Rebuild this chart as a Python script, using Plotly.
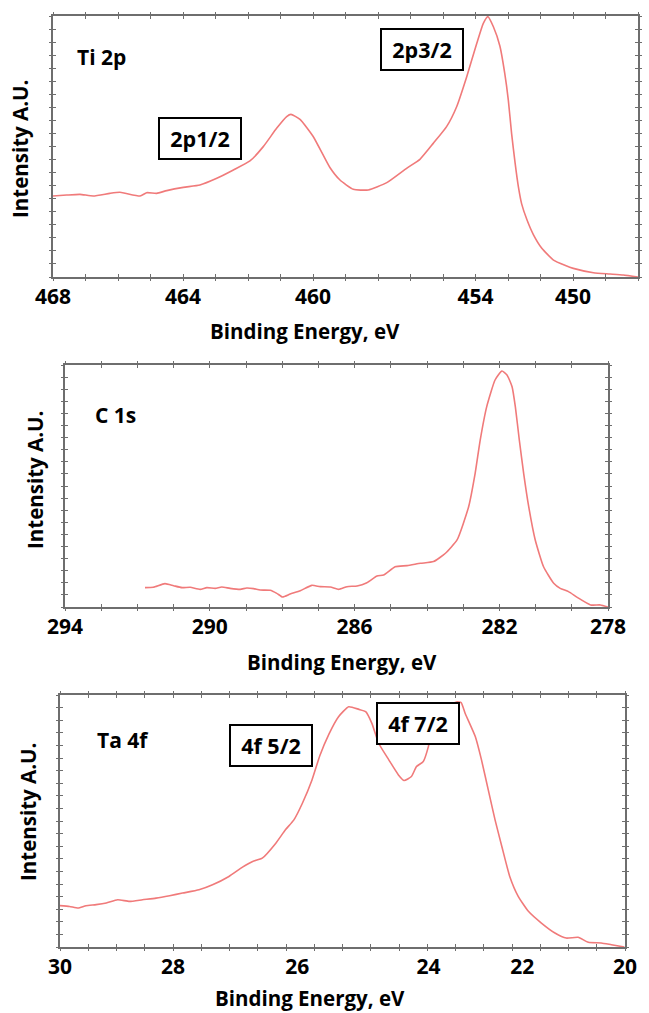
import plotly.graph_objects as go

W, H = 649, 1013

# ---- Ti 2p spectrum ----
ti_be = [468.00, 467.58, 467.17, 466.76, 466.25, 465.94, 465.32, 465.12, 464.81, 464.50,
         463.99, 463.48, 462.96, 462.45, 461.94, 461.53, 461.12, 460.81, 460.68, 460.40,
         459.99, 459.48, 459.17, 458.76, 458.30, 457.73, 457.12, 456.71, 456.30, 455.89,
         455.58, 455.27, 454.96, 454.76, 454.62, 454.45, 454.25, 454.10, 453.99, 453.89,
         453.78, 453.68, 453.58, 453.42, 453.22, 452.96, 452.60, 452.25, 451.99, 451.37,
         450.86, 450.45, 450.00]
ti_int = [6.21, 6.28, 6.33, 6.21, 6.41, 6.49, 6.21, 6.46, 6.41, 6.62,
          6.87, 7.05, 7.56, 8.20, 8.89, 9.99, 11.39, 12.29, 12.46, 12.08,
          10.75, 8.39, 7.43, 6.72, 6.67, 7.23, 8.33, 9.02, 10.24, 11.52,
          13.05, 15.35, 17.91, 19.44, 19.95, 19.18, 17.70, 15.60, 13.56, 11.00,
          8.70, 6.90, 5.60, 4.40, 3.25, 2.20, 1.30, 0.90, 0.66, 0.33,
          0.23, 0.15, 0.00]
ti_ticks = [468, 464, 460, 455, 452]
ti_labels = ["468", "464", "460", "454", "450"]

# ---- C 1s spectrum ----
c_be = [291.79, 291.56, 291.24, 291.00, 290.77, 290.54, 290.27, 290.08, 289.85, 289.67,
        289.44, 289.16, 288.98, 288.79, 288.61, 288.33, 288.15, 287.99, 287.78, 287.50,
        287.18, 286.95, 286.67, 286.44, 286.21, 285.93, 285.66, 285.38, 285.20, 284.88,
        284.55, 284.18, 283.82, 283.49, 283.17, 282.85, 282.67, 282.53, 282.35, 282.12,
        281.93, 281.79, 281.65, 281.56, 281.45, 281.33, 281.19, 281.01, 280.78, 280.50,
        280.32, 280.09, 279.85, 279.48, 279.21, 279.00]
c_int = [1.60, 1.63, 1.93, 1.76, 1.60, 1.63, 1.46, 1.60, 1.54, 1.65,
         1.54, 1.46, 1.57, 1.52, 1.40, 1.38, 1.13, 0.83, 1.07, 1.35,
         1.79, 1.68, 1.65, 1.46, 1.68, 1.74, 2.01, 2.56, 2.64, 3.33,
         3.42, 3.61, 3.75, 4.44, 5.54, 8.29, 11.05, 13.80, 16.56, 18.76,
         19.50, 19.17, 18.21, 16.56, 13.80, 11.05, 8.29, 5.54, 3.33, 1.96,
         1.54, 1.27, 0.80, 0.17, 0.17, 0.00]
c_ticks = [294, 290, 286, 282, 279]
c_labels = ["294", "290", "286", "282", "278"]

# ---- Ta 4f spectrum ----
ta_be = [30.00, 29.83, 29.68, 29.54, 29.36, 29.18, 28.98, 28.77, 28.54, 28.30,
         28.06, 27.83, 27.54, 27.30, 27.01, 26.77, 26.59, 26.42, 26.18, 26.01,
         25.86, 25.71, 25.54, 25.40, 25.24, 25.07, 24.89, 24.71, 24.59, 24.48,
         24.36, 24.18, 24.01, 23.91, 23.78, 23.69, 23.57, 23.48, 23.42, 23.21,
         23.06, 22.98, 22.90, 22.83, 22.65, 22.54, 22.42, 22.30, 22.18, 22.04,
         21.89, 21.71, 21.48, 21.24, 21.04, 20.83, 20.65, 20.42, 20.24, 20.01]
ta_int = [3.28, 3.22, 3.09, 3.28, 3.36, 3.49, 3.75, 3.62, 3.75, 3.88,
          4.07, 4.28, 4.54, 4.94, 5.60, 6.34, 6.79, 7.05, 8.24, 9.30,
          10.09, 11.41, 13.26, 15.20, 16.90, 18.28, 19.07, 18.86, 18.68, 17.75,
          16.17, 14.85, 13.66, 13.21, 13.53, 14.32, 14.72, 15.90, 17.23, 18.55,
          19.29, 19.45, 19.39, 18.55, 16.70, 14.85, 12.47, 10.09, 7.98, 5.60,
          4.02, 2.83, 1.90, 1.11, 0.71, 0.77, 0.37, 0.32, 0.18, 0.00]
ta_ticks = [30, 28, 25.8, 23.48, 21.82, 20]
ta_labels = ["30", "28", "26", "24", "22", "20"]

LINE = "#f07a7a"
AXIS = "#6e6e6e"
FONT = "Open Sans"

def fx(p):
    return p / W

def fy(p):
    return 1 - p / H

def bold(s):
    return "<b>%s</b>" % s

panels = [
    dict(be=ti_be, inten=ti_int, xr=[468, 450], step=1, box_x=(53, 638), box_y=(16, 277),
         tv=ti_ticks, tt=ti_labels, name="Ti 2p", name_xy=(466.5, 16.85),
         peaks=[("2p1/2", 463.48, 10.65), ("2p3/2", 456.65, 17.47)],
         xtitle=(305, 331), ytitle=(20, 149)),
    dict(be=c_be, inten=c_int, xr=[294, 279], step=1, box_x=(65, 608), box_y=(365, 607),
         tv=c_ticks, tt=c_labels, name="C 1s", name_xy=(292.6, 15.85),
         peaks=[], xtitle=(342, 662), ytitle=(35, 480)),
    dict(be=ta_be, inten=ta_int, xr=[30, 20], step=0.5, box_x=(60, 625), box_y=(695, 947),
         tv=ta_ticks, tt=ta_labels, name="Ta 4f", name_xy=(28.88, 16.4),
         peaks=[("4f 5/2", 26.27, 15.99), ("4f 7/2", 23.66, 17.74)],
         xtitle=(310, 998), ytitle=(28, 812)),
]

fig = go.Figure()
layout = dict(width=W, height=H, margin=dict(l=0, r=0, t=0, b=0, autoexpand=False),
              autosize=False, paper_bgcolor="white", plot_bgcolor="white", showlegend=False,
              font=dict(family=FONT, color="black"))
annotations = []

for i, p in enumerate(panels):
    n = i + 1
    sx = "" if n == 1 else str(n)
    xref, yref = "x" + sx, "y" + sx
    xdom = [fx(p["box_x"][0]), fx(p["box_x"][1])]
    ydom = [fy(p["box_y"][1]), fy(p["box_y"][0])]

    fig.add_trace(go.Scatter(x=p["be"], y=p["inten"], mode="lines", xaxis=xref, yaxis=yref,
                             line=dict(color=LINE, width=1.6, shape="spline", smoothing=0.5),
                             hoverinfo="skip"))

    layout["xaxis" + sx] = dict(domain=xdom, range=p["xr"], anchor=yref, automargin=False,
                                tickmode="array", tickvals=p["tv"],
                                ticktext=[bold(t) for t in p["tt"]],
                                ticks="",
                                tickfont=dict(family=FONT, size=21, color="black"),
                                showline=True, linecolor=AXIS, linewidth=1.6, mirror=True,
                                showgrid=False, zeroline=False)
    layout["yaxis" + sx] = dict(domain=ydom, range=[0, 20], anchor=xref, automargin=False,
                                showticklabels=False, ticks="",
                                showline=True, linecolor=AXIS, linewidth=1.6, mirror=True,
                                showgrid=False, zeroline=False)

    # crossing tick marks: one overlay with inward ticks, one with outward ticks
    for k, side in ((n + 3, "inside"), (n + 6, "outside")):
        ox, oy = "x%d" % k, "y%d" % k
        layout["xaxis%d" % k] = dict(overlaying=xref, anchor=oy, range=p["xr"], automargin=False,
                                     tick0=p["xr"][1], dtick=p["step"], ticks=side,
                                     ticklen=3, tickwidth=1.4, tickcolor=AXIS, mirror="ticks",
                                     showline=False, showticklabels=False,
                                     showgrid=False, zeroline=False)
        layout["yaxis%d" % k] = dict(overlaying=yref, anchor=ox, range=[0, 20], automargin=False,
                                     tick0=0, dtick=1, ticks=side,
                                     ticklen=3, tickwidth=1.4, tickcolor=AXIS, mirror="ticks",
                                     showline=False, showticklabels=False,
                                     showgrid=False, zeroline=False)
        fig.add_trace(go.Scatter(x=[], y=[], xaxis=ox, yaxis=oy, hoverinfo="skip"))

    # panel label
    annotations.append(dict(x=p["name_xy"][0], y=p["name_xy"][1], xref=xref, yref=yref,
                            text=bold(p["name"]), showarrow=False,
                            font=dict(family=FONT, size=21, color="black")))
    # boxed peak labels
    for txt, bx, by in p["peaks"]:
        annotations.append(dict(x=bx, y=by, xref=xref, yref=yref, text=bold(txt), showarrow=False,
                                font=dict(family=FONT, size=21.5, color="black"),
                                bgcolor="white", bordercolor="black", borderwidth=2,
                                borderpad=2, width=76, height=35))
    # axis titles
    tx, ty = p["xtitle"]
    annotations.append(dict(x=fx(tx), y=fy(ty), xref="paper", yref="paper",
                            text=bold("Binding Energy, eV"), showarrow=False,
                            xanchor="center", yanchor="middle",
                            font=dict(family=FONT, size=20.5, color="black")))
    yx, yy = p["ytitle"]
    annotations.append(dict(x=fx(yx), y=fy(yy), xref="paper", yref="paper",
                            text=bold("Intensity A.U."), showarrow=False, textangle=-90,
                            xanchor="center", yanchor="middle",
                            font=dict(family=FONT, size=20.5, color="black")))

layout["annotations"] = annotations
fig.update_layout(**layout)
fig.write_html("out.html")
